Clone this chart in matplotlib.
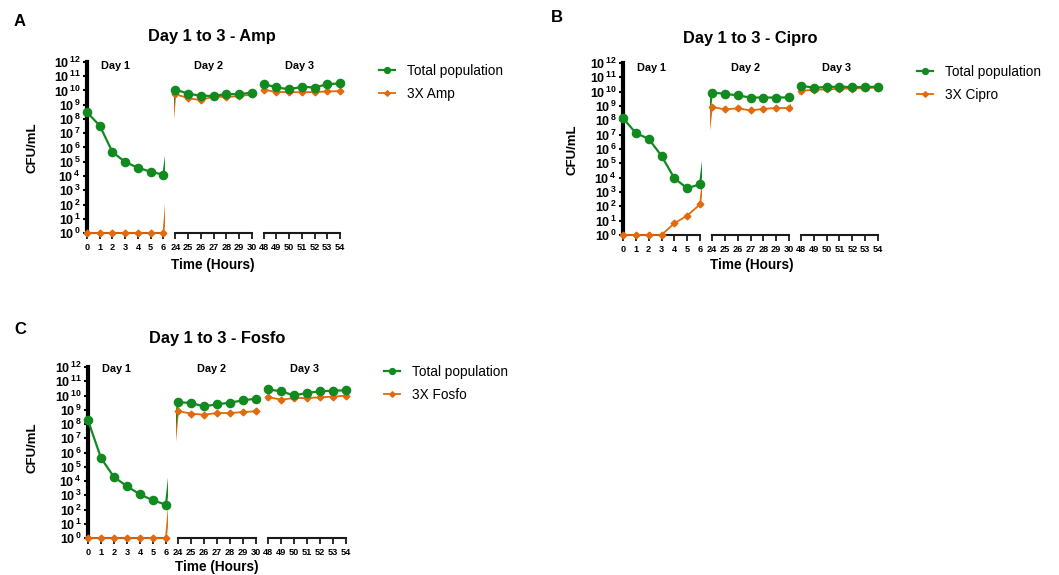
import numpy as np
import matplotlib
matplotlib.use('Agg')
import matplotlib.pyplot as plt
from matplotlib.lines import Line2D
import matplotlib.transforms as mtransforms

plt.rcParams['font.family'] = ['Liberation Sans', 'DejaVu Sans']
plt.rcParams['mathtext.fontset'] = 'custom'
plt.rcParams['mathtext.rm'] = 'Liberation Sans'
plt.rcParams['mathtext.bf'] = 'Liberation Sans:bold'

# ---------------- data ----------------
day1_hours = [0, 1, 2, 3, 4, 5, 6]
day2_hours = [24, 25, 26, 27, 28, 29, 30]
day3_hours = [48, 49, 50, 51, 52, 53, 54]
day_labels = ['Day 1', 'Day 2', 'Day 3']
ytick_exponents = list(range(0, 13))

# log10(CFU/mL)
amp_total_log = [8.47, 7.53, 5.68, 4.98, 4.58, 4.30, 4.09,
                 10.07, 9.78, 9.63, 9.62, 9.75, 9.74, 9.85,
                 10.45, 10.23, 10.08, 10.26, 10.21, 10.44, 10.50]
amp_drug_log = [0, 0, 0, 0, 0, 0, 0,
                9.74, 9.47, 9.32, 9.58, 9.54, 9.60, 9.72,
                10.05, 9.90, 9.88, 9.88, 9.89, 9.93, 9.96]
cipro_total_log = [8.16, 7.11, 6.71, 5.52, 3.96, 3.26, 3.54,
                   9.94, 9.85, 9.74, 9.59, 9.59, 9.59, 9.60,
                   10.42, 10.27, 10.33, 10.35, 10.32, 10.33, 10.34]
cipro_drug_log = [0, 0, 0, 0, 0.82, 1.35, 2.14,
                  8.94, 8.76, 8.84, 8.69, 8.80, 8.86, 8.86,
                  10.06, 10.13, 10.16, 10.20, 10.22, 10.24, 10.29]
fosfo_total_log = [8.26, 5.61, 4.28, 3.63, 3.06, 2.64, 2.34,
                   9.54, 9.47, 9.24, 9.38, 9.50, 9.66, 9.78,
                   10.43, 10.29, 10.01, 10.18, 10.29, 10.34, 10.36]
fosfo_drug_log = [0, 0, 0, 0, 0, 0, 0,
                  8.91, 8.73, 8.65, 8.77, 8.77, 8.84, 8.89,
                  9.89, 9.71, 9.82, 9.82, 9.87, 9.92, 9.99]

panel_letters = ['A', 'B', 'C']
titles = ['Day 1 to 3 - Amp', 'Day 1 to 3 - Cipro', 'Day 1 to 3 - Fosfo']
drug_labels = ['3X Amp', '3X Cipro', '3X Fosfo']
total_label = 'Total population'

# ---------------- styling / layout ----------------
W, H = 1059, 575
GREEN = '#128a20'
ORANGE = '#e2690c'
AXC = '#1a1a1a'
GAP = 0.93      # compressed width of the axis breaks (hour units)
MARG = 0.12     # how far the line is drawn beyond each segment
YPAD = 0.35     # decades of padding below 10^0 / above 10^12

# pixel layout per panel: x of hour 0, x of hour 54, y of 10^12, y of 10^0
layouts = [
    dict(x0=87, x54=340, ytop=62, ybot=233, title=(212, 37), letter=(20, 22),
         ylab=(33, 148), xlab=(213, 265), legend=(379, 64), dayy=11.7),
    dict(x0=623, x54=878, ytop=63, ybot=235, title=(750, 38), letter=(557, 17),
         ylab=(572, 150), xlab=(752, 265), legend=(917, 65), dayy=11.65),
    dict(x0=88, x54=346, ytop=367, ybot=538, title=(217, 339), letter=(20, 330),
         ylab=(33, 448), xlab=(217, 567), legend=(384, 365), dayy=11.85),
]
day_label_x = [2.2, 26.6, 50.8]

hk = np.array([-1000.0, 0, 6, 24, 30, 48, 54, 1054])
pk = np.array([-1000.0, 0, 6, 6 + GAP, 12 + GAP, 12 + 2 * GAP, 18 + 2 * GAP, 1018 + 2 * GAP])


def fwd(x):
    return np.interp(x, hk, pk)


def inv(p):
    return np.interp(p, pk, hk)


fig = plt.figure(figsize=(W / 100, H / 100), dpi=100)


def fx(px):
    return px / W


def fy(py):
    return 1 - py / H


all_hours = day1_hours + day2_hours + day3_hours
segments = [day1_hours, day2_hours, day3_hours]
series = [(amp_total_log, amp_drug_log), (cipro_total_log, cipro_drug_log),
          (fosfo_total_log, fosfo_drug_log)]

for pi, lay in enumerate(layouts):
    tot_log, drug_log = series[pi]
    tot = 10 ** np.array(tot_log)
    drug = 10 ** np.array(drug_log)
    unit = (lay['x54'] - lay['x0']) / (18 + 2 * GAP)
    dec = (lay['ybot'] - lay['ytop']) / 12.0
    ax_top = lay['ytop'] - YPAD * dec
    ax_bot = lay['ybot'] + YPAD * dec
    handles = None
    for si, seg in enumerate(segments):
        s = si * (6 + GAP)
        left_px = lay['x0'] + (s - MARG) * unit
        width_px = (6 + 2 * MARG) * unit
        ax = fig.add_axes([fx(left_px), fy(ax_bot), width_px / W, (ax_bot - ax_top) / H])
        ax.patch.set_alpha(0)
        ax.set_xscale('function', functions=(fwd, inv))
        ax.set_yscale('log')
        ax.set_xlim(inv(s - MARG), inv(s + 6 + MARG))
        ax.set_ylim(10 ** (-YPAD), 10 ** (12 + YPAD))
        # connecting lines (clipped at the segment edges -> break artefacts)
        ax.plot(all_hours, drug, color=ORANGE, lw=1.3, zorder=3)
        ax.plot(all_hours, tot, color=GREEN, lw=1.6, zorder=4)
        i0 = si * 7
        ax.plot(seg, drug[i0:i0 + 7], ls='none', marker='D', ms=3.4, color=ORANGE,
                mec=ORANGE, clip_on=False, zorder=5)
        ax.plot(seg, tot[i0:i0 + 7], ls='none', marker='o', ms=5.9, color=GREEN,
                mec=GREEN, clip_on=False, zorder=6)
        for sp in ['top', 'right']:
            ax.spines[sp].set_visible(False)
        ax.spines['bottom'].set_position(('data', 1))
        ax.spines['bottom'].set_bounds(seg[0], seg[-1])
        ax.spines['bottom'].set_linewidth(1.5)
        ax.spines['bottom'].set_color(AXC)
        ax.spines['bottom'].set_zorder(2)
        ax.set_xticks(seg)
        ax.set_xticklabels([str(h) for h in seg], fontsize=6.6, fontweight='bold')
        ax.set_xticks([seg[0], seg[-1]] if si > 0 else [seg[-1]], minor=True)
        ax.tick_params(axis='x', which='major', direction='out', length=4, width=1.3,
                       color=AXC, pad=3)
        ax.tick_params(axis='x', which='minor', direction='inout', length=10, width=1.5,
                       color=AXC)
        if si == 0:
            ax.spines['left'].set_position(('data', 0))
            ax.spines['left'].set_bounds(1, 1e12)
            ax.spines['left'].set_linewidth(3)
            ax.spines['left'].set_color('black')
            ax.set_yticks([10.0 ** e for e in ytick_exponents])
            ax.set_yticklabels([r'$\mathbf{10^{\,%d}}$' % e for e in ytick_exponents],
                               fontsize=9)
            ax.yaxis.set_minor_locator(matplotlib.ticker.NullLocator())
            ax.tick_params(axis='y', which='major', direction='out', length=3, width=1.5,
                           pad=1.5, color='black')
        else:
            ax.spines['left'].set_visible(False)
            ax.yaxis.set_minor_locator(matplotlib.ticker.NullLocator())
            ax.tick_params(axis='y', which='both', left=False, labelleft=False)
        trans = mtransforms.blended_transform_factory(ax.transData, ax.transData)
        ax.text(day_label_x[si], 10 ** lay['dayy'], day_labels[si], ha='center',
                va='center', fontsize=7.8, fontweight='bold', transform=trans,
                clip_on=False)
        if si == 0:
            handles = [Line2D([], [], color=GREEN, lw=1.6, marker='o', ms=4.2),
                       Line2D([], [], color=ORANGE, lw=1.3, marker='D', ms=2.8)]
    # panel texts
    fig.text(fx(lay['title'][0]), fy(lay['title'][1]), titles[pi], ha='center',
             va='center', fontsize=11.8, fontweight='bold')
    fig.text(fx(lay['letter'][0]), fy(lay['letter'][1]), panel_letters[pi], ha='center',
             va='center', fontsize=12, fontweight='bold')
    fig.text(fx(lay['ylab'][0]), fy(lay['ylab'][1]), 'CFU/mL', ha='center', va='center',
             rotation=90, fontsize=9.5, fontweight='bold')
    fig.text(fx(lay['xlab'][0]), fy(lay['xlab'][1]), 'Time (Hours)', ha='center',
             va='center', fontsize=9.8, fontweight='bold')
    fig.legend(handles=handles, labels=[total_label, drug_labels[pi]], loc='upper left',
               bbox_to_anchor=(fx(lay['legend'][0]), fy(lay['legend'][1])),
               frameon=False, fontsize=9.8, handlelength=1.2, handletextpad=0.85,
               labelspacing=0.65, borderpad=0, borderaxespad=0, numpoints=1)

fig.savefig('out.png', dpi=100)
